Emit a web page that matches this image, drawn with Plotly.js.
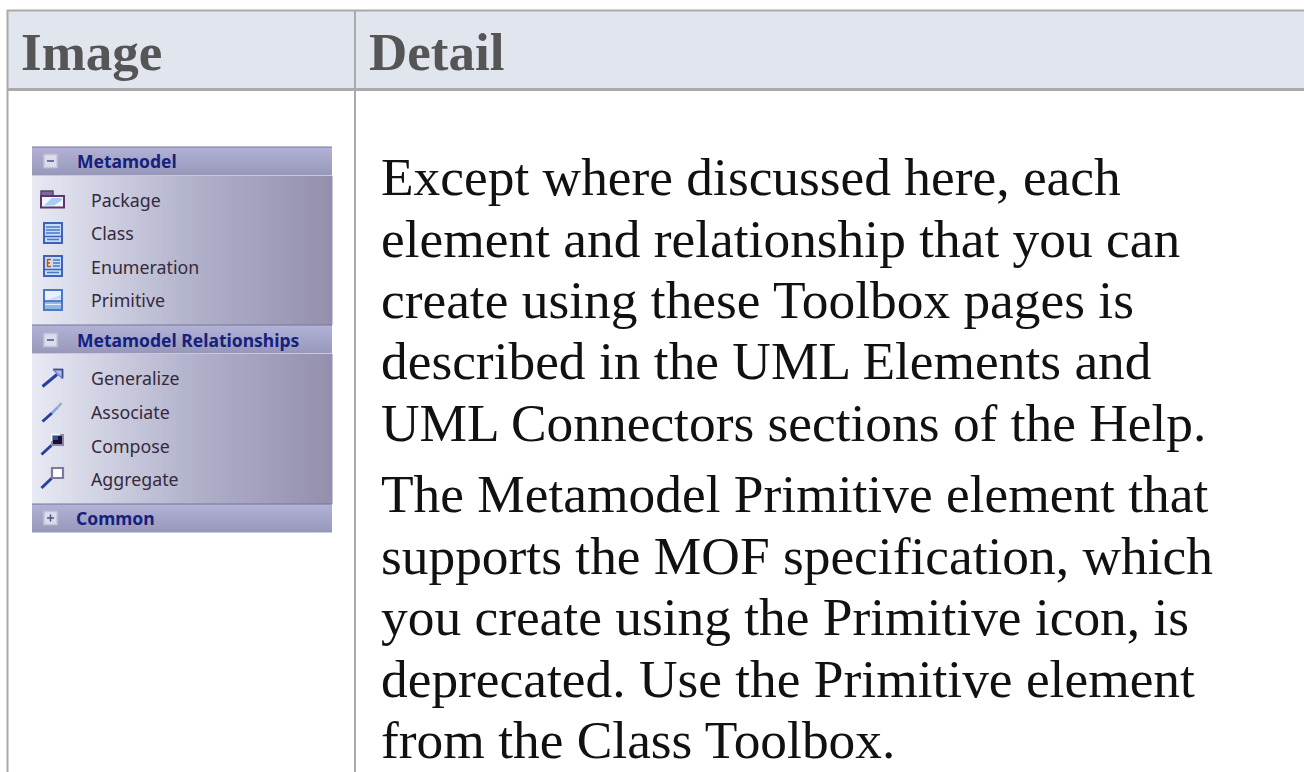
<!DOCTYPE html>
<html><head><meta charset="utf-8">
<script src="https://cdn.plot.ly/plotly-3.0.1.min.js"></script>
<style>html,body{margin:0;padding:0;background:#fff;overflow:hidden}#c{width:1304px;height:772px}</style>
</head><body><div id="c"></div>
<script>
const headers = ["Image", "Detail"];
const detailLines = [
  "Except where discussed here, each",
  "element and relationship that you can",
  "create using these Toolbox pages is",
  "described in the UML Elements and",
  "UML Connectors sections of the Help.",
  "The Metamodel Primitive element that",
  "supports the MOF specification, which",
  "you create using the Primitive icon, is",
  "deprecated. Use the Primitive element",
  "from the Class Toolbox."
];
const detailY = [177, 239, 300, 361, 423, 494, 556, 617, 679, 740];
const sections = ["Metamodel", "Metamodel Relationships", "Common"];
const sectionY = [161, 340, 518];
const sectionSign = ["−", "−", "+"];
const items = ["Package", "Class", "Enumeration", "Primitive", "Generalize", "Associate", "Compose", "Aggregate"];
const itemY = [200, 233, 267, 300, 378, 412, 446, 479];

const shapes = [], annotations = [];
const rect = (x0, y0, x1, y1, fill, line, w) => shapes.push({type: "rect", xref: "x", yref: "y", x0, y0, x1, y1,
  fillcolor: fill, line: line ? {color: line, width: w || 1} : {width: 0}});
const seg = (x0, y0, x1, y1, color, w) => shapes.push({type: "line", xref: "x", yref: "y", x0, y0, x1, y1,
  line: {color, width: w || 1}});
const poly = (pts, fill) => shapes.push({type: "path", xref: "x", yref: "y",
  path: "M" + pts.map(p => p.join(",")).join("L") + "Z", fillcolor: fill, line: {width: 0}});
const text = (t, x, y, size, color, family, anchor) => annotations.push({text: t, x, y, xref: "x", yref: "y",
  xanchor: anchor || "left", yanchor: "middle", showarrow: false, align: "left",
  font: {size, color, family}, borderpad: 0, borderwidth: 0});
const mix = (a, b, t) => "rgb(" + a.map((v, i) => Math.round(v + (b[i] - v) * t)).join(",") + ")";

// table frame
const GRID = "#aaaaaa";
rect(8, 10, 1304, 89, "#e1e5ee");
seg(7.5, 10, 7.5, 772, GRID, 2);
seg(355, 10, 355, 772, GRID, 2);
seg(7, 10.5, 1304, 10.5, GRID, 2);
seg(7, 89.5, 1304, 89.5, GRID, 3);

const SERIF = "'Liberation Serif', serif", SANS = "'Noto Sans', Tahoma, sans-serif";
text("<b>" + headers[0] + "</b>", 21, 52, 53, "#555555", SERIF);
text("<b>" + headers[1] + "</b>", 369, 52, 53, "#555555", SERIF);
detailLines.forEach((t, i) => text(t, 381, detailY[i], 53.4, "#111111", SERIF));

// toolbox panel
const PX0 = 32, PX1 = 332;
function contentBlock(y0, y1) {
  const L = [231, 233, 243], M = [176, 176, 203], R = [148, 144, 174];
  const n = 60, w = (PX1 - PX0) / n;
  for (let i = 0; i < n; i++) {
    const t = i / (n - 1);
    const c = t < 0.55 ? mix(L, M, t / 0.55) : mix(M, R, (t - 0.55) / 0.45);
    rect(PX0 + i * w, y0, PX0 + (i + 1) * w + 0.5, y1, c);
  }
}
function band(y0, y1) {
  const T = [178, 178, 216], B = [152, 152, 186], n = y1 - y0;
  for (let i = 0; i < n; i++) rect(PX0, y0 + i, PX1, y0 + i + 1, mix(T, B, i / (n - 1)));
  seg(PX0, y0, PX1, y0, "#77778f", 1);
  seg(PX0, y1 + 0.5, PX1, y1 + 0.5, "#c8c8e0", 1);
}
contentBlock(176, 325);
contentBlock(354, 504);
band(147, 175);
band(325, 353);
band(504, 532);

sections.forEach((s, i) => {
  const y = sectionY[i];
  rect(44, y - 6.5, 57, y + 6.5, "#dcdcec", "#c4c4d8", 1.5);
  seg(47, y, 54, y, "#50508a", 1.5);
  if (sectionSign[i] === "+") seg(50.5, y - 3.5, 50.5, y + 3.5, "#50508a", 1.5);
  text("<b>" + s + "</b>", i === 2 ? 76 : 77, y, 17.5, "#14217e", SANS);
});
items.forEach((s, i) => text(s, 91, itemY[i], 17.8, "#352a3c", SANS));

// icons
const NAVY = "#2a3f9e";
// package
rect(41, 191, 53, 197, "#7a6a9a", "#5a3f70", 1.5);
rect(41, 196, 64, 207.5, "#f2f6fc", "#5e3470", 2);
poly([[44, 205.5], [52, 198], [62, 198], [62, 200], [54, 205.5]], "#a8cdf0");
function classIcon(y, enumIcon) {
  rect(44, y - 10, 62, y + 10, "#c4dcf6", "#3f62b8", 2);
  if (enumIcon) {
    rect(46, y - 8, 51.5, y + 2, "#ecd8cc");
    seg(47, y - 6.5, 51, y - 6.5, "#a05a3a", 1.5);
    seg(47, y - 3, 50, y - 3, "#a05a3a", 1.5);
    seg(47, y + 0.5, 51, y + 0.5, "#a05a3a", 1.5);
    seg(47.5, y - 7, 47.5, y + 1, "#a05a3a", 1.5);
    [-6, -3, 0].forEach(d => seg(53, y + d, 60, y + d, "#4a78c8", 1.5));
  } else {
    [-6, -3, 0].forEach(d => seg(46, y + d, 60, y + d, "#4a78c8", 1.5));
  }
  seg(44, y + 3.5, 62, y + 3.5, "#3f62b8", 1.5);
  seg(47, y + 6.5, 59, y + 6.5, "#4a78c8", 1.5);
}
classIcon(itemY[1], false);
classIcon(itemY[2] - 1, true);
// primitive
const py = itemY[3];
rect(44, py - 10, 62, py + 10, "#e8f2fc", "#4a78c4", 2);
poly([[45, py + 1], [61, py - 5], [61, py - 1], [45, py + 1]], "#c4dcf6");
rect(45, py + 1, 61, py + 9, "#8fb6e6");
seg(44, py + 1, 62, py + 1, "#3a62b0", 1.5);
seg(45, py + 4.5, 61, py + 4.5, "#e4eefa", 1.2);
// generalize
const gy = itemY[4];
seg(42.5, gy + 8.5, 57, gy - 3.5, NAVY, 3);
poly([[53, gy - 9], [63, gy - 9], [63, gy + 0.5]], "#b8bee0");
seg(53, gy - 8.5, 63, gy - 8.5, "#3a4a9a", 1.8);
seg(62.5, gy - 9, 62.5, gy + 0.5, "#3a4a9a", 1.8);
seg(53, gy - 8.5, 62.5, gy + 0.5, "#6a78c0", 1.2);
// associate
const ay = itemY[5];
seg(42.5, ay + 9.5, 52, ay + 1, NAVY, 3);
seg(52, ay + 1, 58, ay - 5, "#7fa8dc", 2.5);
seg(58, ay - 5, 61.5, ay - 9, "#a8a8bc", 2.5);
// compose
const cy = itemY[6];
seg(41.5, cy + 8.5, 54, cy - 3, NAVY, 3);
rect(52, cy - 11, 63, cy - 1, "#181030", "#8a8aa8", 2);
seg(51, cy - 11.5, 60, cy - 11.5, "#ffffff", 1.2);
seg(51.5, cy - 11, 51.5, cy - 5, "#ffffff", 1.2);
rect(53, cy - 10, 58, cy - 6, "#2e4fb0");
// aggregate
const gg = itemY[7];
seg(41.5, gg + 9, 54, gg - 3, NAVY, 3);
rect(52, gg - 11, 63, gg - 1, "#ffffff", "#7a7aa0", 2.2);

Plotly.newPlot("c", [], {
  width: 1304, height: 772,
  margin: {l: 0, r: 0, t: 0, b: 0, pad: 0},
  paper_bgcolor: "#ffffff", plot_bgcolor: "#ffffff", showlegend: false,
  xaxis: {range: [0, 1304], visible: false, fixedrange: true},
  yaxis: {range: [772, 0], visible: false, fixedrange: true},
  shapes, annotations
}, {displayModeBar: false, staticPlot: true});
</script>
</body></html>
